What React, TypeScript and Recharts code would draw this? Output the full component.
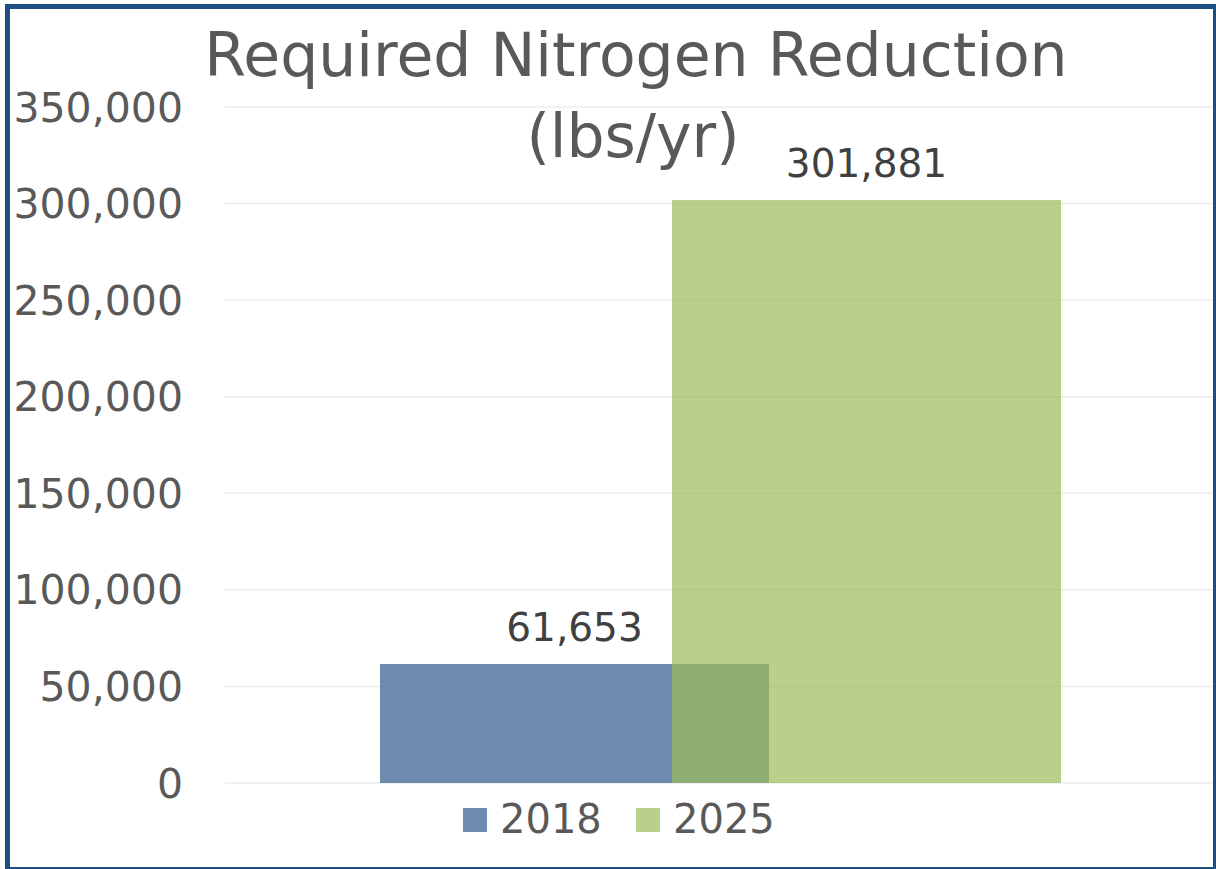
import { BarChart, Bar, XAxis, YAxis, CartesianGrid, Legend, LabelList } from "recharts";

const categories = ["Required Nitrogen Reduction"];
const seriesNames = ["2018", "2025"];
const values2018 = [61653];
const values2025 = [301881];
const yTicks = [0, 50000, 100000, 150000, 200000, 250000, 300000, 350000];

const data = categories.map((name, i) => ({
  name,
  y2018: values2018[i],
  y2025: values2025[i],
}));

const FONT = "'DejaVu Sans', sans-serif";
const BLUE = "#4a6f9c";
const GREEN = "#9bbb59";

const fmt = (v: number) => Number(v).toLocaleString("en-US");

function LegendBox() {
  const items = [
    { label: seriesNames[0], color: BLUE, op: 0.8, sx: 463, tx: 500 },
    { label: seriesNames[1], color: GREEN, op: 0.7, sx: 636, tx: 673 },
  ];
  return (
    <svg width={1216} height={62} style={{ display: "block" }}>
      {items.map((it) => (
        <g key={it.label}>
          <rect x={it.sx} y={25} width={24} height={24} fill={it.color} fillOpacity={it.op} />
          <text x={it.tx} y={50} fontSize={40} fill="#595959" fontFamily={FONT}>
            {it.label}
          </text>
        </g>
      ))}
    </svg>
  );
}

export default function App() {
  return (
    <div
      style={{
        position: "absolute",
        left: 0,
        top: 0,
        width: 1216,
        height: 869,
        overflow: "hidden",
        background: "#ffffff",
        fontFamily: FONT,
      }}
    >
      <BarChart
        width={1216}
        height={869}
        data={data}
        margin={{ top: 107, right: 0, bottom: 24, left: 0 }}
        barSize={389}
        barGap={-97}
      >
        <CartesianGrid vertical={false} stroke="#ececec" strokeWidth={1.5} />
        <XAxis dataKey="name" hide />
        <YAxis
          width={225}
          domain={[0, 350000]}
          ticks={yTicks}
          interval={0}
          axisLine={false}
          tickLine={false}
          tickSize={0}
          tickMargin={42}
          tickFormatter={fmt}
          tick={{ fontSize: 41, fill: "#595959", fontFamily: FONT }}
        />
        <Legend
          verticalAlign="bottom"
          wrapperStyle={{ left: 0, bottom: 24, width: 1216 }}
          content={() => <LegendBox />}
        />
        <Bar dataKey="y2018" name={seriesNames[0]} fill={BLUE} fillOpacity={0.8} isAnimationActive={false}>
          <LabelList
            dataKey="y2018"
            position="top"
            offset={23}
            formatter={(v: any) => fmt(v)}
            style={{ fontSize: 39, fill: "#404040", fontFamily: FONT }}
          />
        </Bar>
        <Bar dataKey="y2025" name={seriesNames[1]} fill={GREEN} fillOpacity={0.7} isAnimationActive={false}>
          <LabelList
            dataKey="y2025"
            position="top"
            offset={23}
            formatter={(v: any) => fmt(v)}
            style={{ fontSize: 39, fill: "#404040", fontFamily: FONT }}
          />
        </Bar>
      </BarChart>
      <svg
        width={1216}
        height={869}
        style={{ position: "absolute", left: 0, top: 0, pointerEvents: "none" }}
      >
        <text x={636} y={76} textAnchor="middle" fontSize={60} fill="#595959" fontFamily={FONT}>
          Required Nitrogen Reduction
        </text>
        <text x={633} y={157} textAnchor="middle" fontSize={60} fill="#595959" fontFamily={FONT}>
          (lbs/yr)
        </text>
      </svg>
      <div
        style={{
          position: "absolute",
          left: 5,
          top: 4,
          width: 1213,
          height: 868,
          boxSizing: "border-box",
          border: "5px solid #1f4e80",
          pointerEvents: "none",
        }}
      />
    </div>
  );
}
